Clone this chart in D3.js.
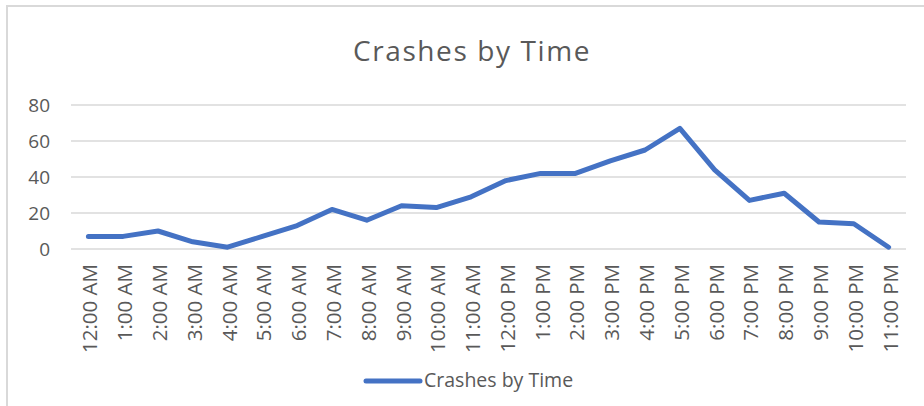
<!DOCTYPE html>
<html>
<head>
<meta charset="utf-8">
<script src="https://cdn.jsdelivr.net/npm/d3@7"></script>
<style>
  body { margin: 0; background: #fff; }
  svg { display: block; }
  text { font-family: "Open Sans", sans-serif; fill: #595959; }
</style>
</head>
<body>
<div id="chart"></div>
<script>
// Data.
var hours = ["12:00 AM", "1:00 AM", "2:00 AM", "3:00 AM", "4:00 AM", "5:00 AM",
             "6:00 AM", "7:00 AM", "8:00 AM", "9:00 AM", "10:00 AM", "11:00 AM",
             "12:00 PM", "1:00 PM", "2:00 PM", "3:00 PM", "4:00 PM", "5:00 PM",
             "6:00 PM", "7:00 PM", "8:00 PM", "9:00 PM", "10:00 PM", "11:00 PM"];
var crashes = [7, 7, 10, 4, 1, 7, 13, 22, 16, 24, 23, 29,
               38, 42, 42, 49, 55, 67, 44, 27, 31, 15, 14, 1];
var yTicks = [0, 20, 40, 60, 80];
var seriesName = "Crashes by Time";
var chartTitle = "Crashes by Time";

// Layout.
var width = 924,
    height = 406,
    plotLeft = 71,
    plotRight = 906,
    plotTop = 105,
    plotBottom = 249,
    lineColor = "#4472C4",
    gridColor = "#d9d9d9";

var svg = d3.select("#chart").append("svg")
    .attr("width", width)
    .attr("height", height);

// Chart area border (only left and top edges visible in the crop).
svg.append("rect")
    .attr("x", 7)
    .attr("y", 6)
    .attr("width", width + 20)
    .attr("height", height + 20)
    .style("fill", "none")
    .style("stroke", gridColor)
    .style("stroke-width", 2);

var x = d3.scaleBand()
    .domain(hours)
    .range([plotLeft, plotRight])
    .padding(0);

var y = d3.scaleLinear()
    .domain([0, 80])
    .range([plotBottom, plotTop]);

// Title.
svg.append("text")
    .attr("x", 472)
    .attr("y", 61)
    .attr("text-anchor", "middle")
    .style("font-size", "28px")
    .style("letter-spacing", "1.6px")
    .text(chartTitle);

// Gridlines.
svg.append("g")
  .selectAll("line")
    .data(yTicks)
  .enter().append("line")
    .attr("x1", plotLeft)
    .attr("x2", plotRight)
    .attr("y1", function(d) { return y(d); })
    .attr("y2", function(d) { return y(d); })
    .style("stroke", gridColor)
    .style("stroke-width", 1.3);

// Y axis labels.
svg.append("g")
  .selectAll("text")
    .data(yTicks)
  .enter().append("text")
    .attr("x", plotLeft - 21)
    .attr("y", function(d) { return y(d); })
    .attr("text-anchor", "end")
    .attr("dominant-baseline", "central")
    .style("font-size", "19px")
    .text(function(d) { return d; });

// X axis labels, rotated.
svg.append("g")
  .selectAll("text")
    .data(hours)
  .enter().append("text")
    .attr("transform", function(d) {
      return "translate(" + (x(d) + x.bandwidth() / 2 + 1) + "," + (plotBottom + 15) + ")rotate(-90)";
    })
    .attr("text-anchor", "end")
    .attr("dominant-baseline", "central")
    .style("font-size", "20.5px")
    .text(function(d) { return d; });

// The series line.
var line = d3.line()
    .x(function(d, i) { return x(hours[i]) + x.bandwidth() / 2; })
    .y(function(d) { return y(d); });

svg.append("path")
    .datum(crashes)
    .attr("d", line)
    .style("fill", "none")
    .style("stroke", lineColor)
    .style("stroke-width", 5)
    .style("stroke-linejoin", "round")
    .style("stroke-linecap", "round");

// Legend.
var legend = svg.append("g");
legend.append("line")
    .attr("x1", 366)
    .attr("x2", 420)
    .attr("y1", 381)
    .attr("y2", 381)
    .style("stroke", lineColor)
    .style("stroke-width", 5)
    .style("stroke-linecap", "round");
legend.append("text")
    .attr("x", 424)
    .attr("y", 387)
    .style("font-size", "19.5px")
    .text(seriesName);
</script>
</body>
</html>
